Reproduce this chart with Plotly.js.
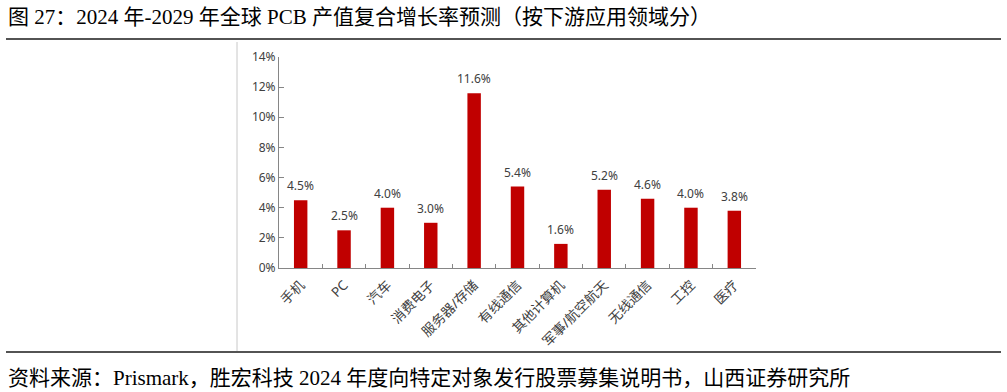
<!DOCTYPE html>
<html>
<head>
<meta charset="utf-8">
<script src="https://cdn.plot.ly/plotly-3.0.1.min.js"></script>
<style>
html,body{margin:0;padding:0;background:#fff;}
#chart{width:1007px;height:392px;}
</style>
</head>
<body>
<div id="chart"></div>
<script>
const categories = ["手机","PC","汽车","消费电子","服务器/存储","有线通信","其他计算机","军事/航空航天","无线通信","工控","医疗"];
const cagrValues = [4.5, 2.5, 4.0, 3.0, 11.6, 5.4, 1.6, 5.2, 4.6, 4.0, 3.8];
const yTickValues = [0, 2, 4, 6, 8, 10, 12, 14];
const yTickLabels = ["0%", "2%", "4%", "6%", "8%", "10%", "12%", "14%"];
const titleText = "图 27：2024 年-2029 年全球 PCB 产值复合增长率预测（按下游应用领域分）";
const sourceText = "资料来源：Prismark，胜宏科技 2024 年度向特定对象发行股票募集说明书，山西证券研究所";

const W = 1007, H = 392;
const ml = 279, mr = 251, mt = 57, mb = 124;
const pw = W - ml - mr, ph = H - mt - mb;
const px = x => (x - ml) / pw;
const py = y => (H - mb - y) / ph;

const chartFont = "Noto Sans, Noto Sans CJK SC, sans-serif";
const docFont = "Times New Roman, Liberation Serif, Noto Sans CJK SC, serif";

const trace = {
  type: "bar",
  x: categories,
  y: cagrValues,
  marker: {color: "#C00000"},
  hoverinfo: "none"
};

const valueLabels = categories.map((c, i) => ({
  text: cagrValues[i].toFixed(1) + "%",
  xref: "x", yref: "y", x: c, y: cagrValues[i],
  xanchor: "center", yanchor: "bottom", yshift: 4,
  showarrow: false,
  font: {family: chartFont, size: 12, color: "#404040"}
}));

const layout = {
  width: W, height: H,
  margin: {l: ml, r: mr, t: mt, b: mb, pad: 0},
  paper_bgcolor: "#fff",
  plot_bgcolor: "#fff",
  showlegend: false,
  bargap: 0.69,
  xaxis: {
    type: "category",
    showline: true, linecolor: "#868686", linewidth: 1,
    ticks: "inside", tickson: "boundaries", ticklen: 4, tickcolor: "#868686",
    tickangle: -45, ticklabelstandoff: 3,
    tickfont: {family: chartFont, size: 13.5, color: "#404040"},
    showgrid: false, zeroline: false, fixedrange: true
  },
  yaxis: {
    range: [0, 14],
    tickvals: yTickValues, ticktext: yTickLabels,
    showline: true, linecolor: "#868686", linewidth: 1,
    ticks: "inside", ticklen: 5, tickcolor: "#868686",
    tickfont: {family: chartFont, size: 12, color: "#404040"},
    showgrid: false, zeroline: false, fixedrange: true
  },
  annotations: valueLabels.concat([
    {text: titleText, xref: "paper", yref: "paper", x: px(6), y: py(17),
     xanchor: "left", yanchor: "middle", showarrow: false,
     font: {family: docFont, size: 21, color: "#000"}},
    {text: sourceText, xref: "paper", yref: "paper", x: px(6), y: py(378),
     xanchor: "left", yanchor: "middle", showarrow: false,
     font: {family: docFont, size: 21, color: "#000"}}
  ]),
  shapes: [
    {type: "line", xref: "paper", yref: "paper", x0: px(6), x1: px(1001), y0: py(39), y1: py(39),
     line: {color: "#1a1a1a", width: 1.5}},
    {type: "line", xref: "paper", yref: "paper", x0: px(6), x1: px(1001), y0: py(352), y1: py(352),
     line: {color: "#1a1a1a", width: 1.5}},
    {type: "line", xref: "paper", yref: "paper", x0: px(237), x1: px(237), y0: py(42), y1: py(351),
     line: {color: "#c8c8c8", width: 1}}
  ]
};

Plotly.newPlot("chart", [trace], layout, {displayModeBar: false, staticPlot: true});
</script>
</body>
</html>
